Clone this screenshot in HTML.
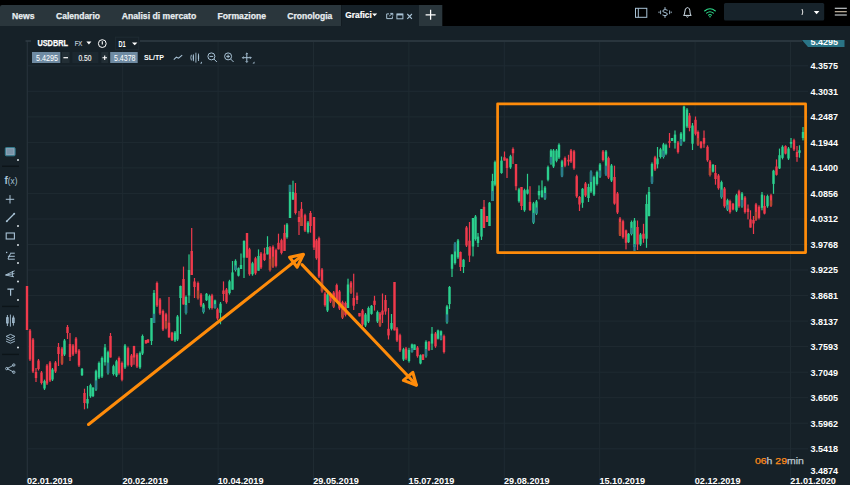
<!DOCTYPE html>
<html><head><meta charset="utf-8"><title>Chart</title><style>html,body{margin:0;padding:0;background:#162128;overflow:hidden}svg{display:block}</style></head><body>
<svg width="850" height="485" viewBox="0 0 850 485" font-family="'Liberation Sans', sans-serif">
<rect width="850" height="485" fill="#162128"/>
<rect x="0" y="0" width="850" height="26" fill="#000"/>
<path d="M0 7 Q0 5 2 5 H341.3 V26 H0 Z" fill="#2a363c"/>
<rect x="341.3" y="5" width="77.7" height="21" fill="#162128"/>
<rect x="419" y="5" width="23.3" height="21" fill="#2a363c"/>
<text x="12" y="18.9" font-size="9" font-weight="bold" fill="#e9eef1" text-anchor="start" textLength="22.4" lengthAdjust="spacingAndGlyphs" stroke="#e9eef1" stroke-width="0.25">News</text>
<text x="56" y="18.9" font-size="9" font-weight="bold" fill="#e9eef1" text-anchor="start" textLength="44" lengthAdjust="spacingAndGlyphs" stroke="#e9eef1" stroke-width="0.25">Calendario</text>
<text x="121.7" y="18.9" font-size="9" font-weight="bold" fill="#e9eef1" text-anchor="start" textLength="74.6" lengthAdjust="spacingAndGlyphs" stroke="#e9eef1" stroke-width="0.25">Analisi di mercato</text>
<text x="217.5" y="18.9" font-size="9" font-weight="bold" fill="#e9eef1" text-anchor="start" textLength="48.5" lengthAdjust="spacingAndGlyphs" stroke="#e9eef1" stroke-width="0.25">Formazione</text>
<text x="287.3" y="18.9" font-size="9" font-weight="bold" fill="#e9eef1" text-anchor="start" textLength="45" lengthAdjust="spacingAndGlyphs" stroke="#e9eef1" stroke-width="0.25">Cronologia</text>
<text x="345.3" y="18.4" font-size="9" font-weight="bold" fill="#fff" text-anchor="start" textLength="26.4" lengthAdjust="spacingAndGlyphs" stroke="#fff" stroke-width="0.2">Grafici</text>
<path d="M372 13.4 h5.2 l-2.6 2.9 z" fill="#fff"/>
<g fill="none" stroke="#a9c3d6" stroke-width="1"><path d="M389 13.9 H386.7 V18.6 H392.4 V16.4"/><path d="M389.3 16 L392.6 13.4 M390.3 13.4 H392.8 V15.6"/></g>
<g fill="none" stroke="#a9c3d6" stroke-width="1"><rect x="396.9" y="14" width="6" height="4.8"/><path d="M396.9 14.6 h6" stroke-width="1.6"/></g>
<path d="M407.3 14 l4.6 4.8 M411.9 14 l-4.6 4.8" stroke="#a9c3d6" stroke-width="1.1" fill="none"/>
<path d="M425.6 14.8 h10 M430.6 9.8 v10" stroke="#fff" stroke-width="1.25" fill="none"/>
<g fill="none" stroke="#a9c3d6" stroke-width="1"><rect x="635.5" y="8.3" width="11.3" height="9"/><path d="M638.3 8.3 v9"/></g>
<g fill="none" stroke="#a9c3d6" stroke-width="1"><path d="M667.6 10.3 q-2.6 -1.6 -4.6 0 q-1.2 1.6 2 2.2 q3.2 0.6 2.2 2.4 q-2 1.6 -4.8 0"/><path d="M665 7.2 v2 M665 15.6 v2.2"/><path d="M660.6 10.4 v3.8 M669.6 10.4 v3.8 M659 11.5 v1.6 M671.2 11.5 v1.6" stroke-width="0.9"/></g>
<g fill="none" stroke="#d4e2ec" stroke-width="1"><path d="M683.6 15.4 q1.2 -1 1.2 -3.4 q0 -4.2 2.6 -4.4 q2.6 0.2 2.6 4.4 q0 2.4 1.2 3.4 z"/><path d="M686.4 16.6 q1 1.2 2 0"/></g>
<g fill="none" stroke="#2edc8c" stroke-width="1.05" stroke-linecap="round"><path d="M704.6 11 q5.4 -4.6 10.8 0"/><path d="M706.6 13.2 q3.4 -3 6.8 0"/><path d="M708.5 15.2 q1.5 -1.4 3 0"/></g><circle cx="710" cy="16.8" r="0.8" fill="#2ee08a"/>
<rect x="724" y="2.9" width="100.2" height="17.7" rx="1.5" fill="#17232b"/>
<path d="M802 9 q1.6 3 0 6" stroke="#e8e8e8" stroke-width="1" fill="none"/>
<path d="M813.8 11 h5.6 l-2.8 3.2 z" fill="#fff"/>
<path d="M834.8 8.3 h12 M834.8 15 h12" stroke="#e8edf0" stroke-width="1.1"/><path d="M834.8 11.7 h12" stroke="#d8c8b0" stroke-width="1.1"/>
<path d="M27.3 65.8 H808 M27.3 91.3 H808 M27.3 116.9 H808 M27.3 142.4 H808 M27.3 167.9 H808 M27.3 193.4 H808 M27.3 219.0 H808 M27.3 244.5 H808 M27.3 270.0 H808 M27.3 295.6 H808 M27.3 321.1 H808 M27.3 346.6 H808 M27.3 372.2 H808 M27.3 397.7 H808 M27.3 423.2 H808 M27.3 448.8 H808 M122.7 42 V485 M218.1 42 V485 M313.5 42 V485 M408.9 42 V485 M504.3 42 V485 M599.7 42 V485 M695.1 42 V485 M790.5 42 V485" stroke="#1f2b32" stroke-width="1" fill="none"/>
<path d="M27.3 41 V485" stroke="#26323a" stroke-width="1.2" fill="none"/>
<path d="M25.5 41 H802" stroke="#303c44" stroke-width="1.5" fill="none"/>
<rect x="26.40" y="286.0" width="1.2" height="44.0" fill="#f03a4c"/>
<rect x="25.80" y="286.0" width="2.4" height="44.0" fill="#f03a4c"/>
<rect x="29.40" y="329.0" width="1.2" height="32.0" fill="#f03a4c"/>
<rect x="28.80" y="330.5" width="2.4" height="29.0" fill="#f03a4c"/>
<rect x="32.40" y="338.0" width="1.2" height="35.0" fill="#f03a4c"/>
<rect x="31.80" y="339.5" width="2.4" height="32.0" fill="#f03a4c"/>
<rect x="35.40" y="368.0" width="1.2" height="14.0" fill="#f03a4c"/>
<rect x="34.80" y="372.0" width="2.4" height="6.0" fill="#f03a4c"/>
<rect x="37.90" y="359.0" width="1.2" height="11.5" fill="#f03a4c"/>
<rect x="37.30" y="360.5" width="2.4" height="8.5" fill="#f03a4c"/>
<rect x="40.90" y="371.0" width="1.2" height="13.5" fill="#f03a4c"/>
<rect x="40.30" y="372.5" width="2.4" height="10.5" fill="#f03a4c"/>
<rect x="43.90" y="379.6" width="1.2" height="10.4" fill="#2bcf8e"/>
<rect x="43.30" y="381.1" width="2.4" height="7.4" fill="#2bcf8e"/>
<rect x="46.40" y="364.0" width="1.2" height="21.0" fill="#f03a4c"/>
<rect x="45.80" y="365.5" width="2.4" height="18.0" fill="#f03a4c"/>
<rect x="49.40" y="361.0" width="1.2" height="21.0" fill="#f03a4c"/>
<rect x="48.80" y="362.5" width="2.4" height="18.0" fill="#f03a4c"/>
<rect x="51.90" y="368.0" width="1.2" height="13.0" fill="#2bcf8e"/>
<rect x="51.30" y="369.5" width="2.4" height="10.0" fill="#2bcf8e"/>
<rect x="54.90" y="361.0" width="1.2" height="12.0" fill="#f03a4c"/>
<rect x="54.30" y="362.5" width="2.4" height="9.0" fill="#f03a4c"/>
<rect x="57.90" y="343.0" width="1.2" height="23.0" fill="#f03a4c"/>
<rect x="57.30" y="347.0" width="2.4" height="7.0" fill="#f03a4c"/>
<rect x="61.40" y="347.0" width="1.2" height="18.0" fill="#f03a4c"/>
<rect x="60.80" y="348.5" width="2.4" height="15.0" fill="#f03a4c"/>
<rect x="60.90" y="356.0" width="2.2" height="7.5" fill="#b34a2e"/>
<rect x="63.90" y="339.0" width="1.2" height="17.0" fill="#2bcf8e"/>
<rect x="63.30" y="340.5" width="2.4" height="14.0" fill="#2bcf8e"/>
<rect x="66.90" y="325.0" width="1.2" height="14.0" fill="#f03a4c"/>
<rect x="66.30" y="327.0" width="2.4" height="6.0" fill="#f03a4c"/>
<rect x="69.40" y="333.0" width="1.2" height="28.0" fill="#f03a4c"/>
<rect x="68.80" y="344.0" width="2.4" height="13.0" fill="#f03a4c"/>
<rect x="72.40" y="344.0" width="1.2" height="12.0" fill="#f03a4c"/>
<rect x="71.80" y="345.5" width="2.4" height="9.0" fill="#f03a4c"/>
<rect x="75.40" y="337.0" width="1.2" height="17.0" fill="#f03a4c"/>
<rect x="74.80" y="338.5" width="2.4" height="14.0" fill="#f03a4c"/>
<rect x="78.40" y="349.0" width="1.2" height="18.0" fill="#f03a4c"/>
<rect x="77.80" y="350.5" width="2.4" height="15.0" fill="#f03a4c"/>
<rect x="81.40" y="368.0" width="1.2" height="8.0" fill="#2bcf8e"/>
<rect x="80.80" y="368.8" width="2.4" height="6.4" fill="#2bcf8e"/>
<rect x="83.90" y="388.7" width="1.2" height="20.6" fill="#f03a4c"/>
<rect x="83.30" y="393.0" width="2.4" height="10.0" fill="#f03a4c"/>
<rect x="86.90" y="386.0" width="1.2" height="22.5" fill="#2bcf8e"/>
<rect x="86.30" y="399.0" width="2.4" height="4.5" fill="#2bcf8e"/>
<rect x="89.90" y="383.7" width="1.2" height="14.1" fill="#2bcf8e"/>
<rect x="89.30" y="385.2" width="2.4" height="11.1" fill="#2bcf8e"/>
<rect x="92.40" y="387.0" width="1.2" height="10.0" fill="#2bcf8e"/>
<rect x="91.80" y="387.8" width="2.4" height="8.4" fill="#2bcf8e"/>
<rect x="95.40" y="369.7" width="1.2" height="21.3" fill="#2bcf8e"/>
<rect x="94.80" y="371.2" width="2.4" height="18.3" fill="#2bcf8e"/>
<rect x="94.90" y="380.4" width="2.2" height="9.1" fill="#2a7a8c"/>
<rect x="98.40" y="361.5" width="1.2" height="17.5" fill="#2bcf8e"/>
<rect x="97.80" y="363.0" width="2.4" height="14.5" fill="#2bcf8e"/>
<rect x="101.40" y="356.5" width="1.2" height="21.5" fill="#2bcf8e"/>
<rect x="100.80" y="358.0" width="2.4" height="18.5" fill="#2bcf8e"/>
<rect x="104.40" y="344.0" width="1.2" height="21.6" fill="#2bcf8e"/>
<rect x="103.80" y="347.4" width="2.4" height="14.9" fill="#2bcf8e"/>
<rect x="107.40" y="350.7" width="1.2" height="23.9" fill="#2bcf8e"/>
<rect x="106.80" y="352.2" width="2.4" height="20.9" fill="#2bcf8e"/>
<rect x="106.90" y="362.6" width="2.2" height="10.5" fill="#2a7a8c"/>
<rect x="109.90" y="333.0" width="1.2" height="24.5" fill="#f03a4c"/>
<rect x="109.30" y="336.0" width="2.4" height="21.5" fill="#f03a4c"/>
<rect x="112.90" y="364.7" width="1.2" height="10.8" fill="#2bcf8e"/>
<rect x="112.30" y="366.2" width="2.4" height="7.8" fill="#2bcf8e"/>
<rect x="115.90" y="359.8" width="1.2" height="17.2" fill="#2bcf8e"/>
<rect x="115.30" y="361.3" width="2.4" height="14.2" fill="#2bcf8e"/>
<rect x="118.40" y="356.5" width="1.2" height="18.1" fill="#f03a4c"/>
<rect x="117.80" y="358.0" width="2.4" height="15.1" fill="#f03a4c"/>
<rect x="121.40" y="361.5" width="1.2" height="19.8" fill="#f03a4c"/>
<rect x="120.80" y="363.0" width="2.4" height="16.8" fill="#f03a4c"/>
<rect x="124.40" y="344.0" width="1.2" height="25.0" fill="#2bcf8e"/>
<rect x="123.80" y="345.5" width="2.4" height="22.0" fill="#2bcf8e"/>
<rect x="127.40" y="346.6" width="1.2" height="19.8" fill="#f03a4c"/>
<rect x="126.80" y="348.1" width="2.4" height="16.8" fill="#f03a4c"/>
<rect x="130.90" y="354.0" width="1.2" height="13.0" fill="#f03a4c"/>
<rect x="130.30" y="355.5" width="2.4" height="10.0" fill="#f03a4c"/>
<rect x="133.40" y="345.8" width="1.2" height="18.9" fill="#f03a4c"/>
<rect x="132.80" y="346.0" width="2.4" height="11.5" fill="#f03a4c"/>
<rect x="136.40" y="353.0" width="1.2" height="15.0" fill="#f03a4c"/>
<rect x="135.80" y="354.5" width="2.4" height="12.0" fill="#f03a4c"/>
<rect x="139.40" y="351.5" width="1.2" height="17.4" fill="#2bcf8e"/>
<rect x="138.80" y="353.0" width="2.4" height="14.4" fill="#2bcf8e"/>
<rect x="141.90" y="334.5" width="1.2" height="20.5" fill="#2bcf8e"/>
<rect x="141.30" y="336.0" width="2.4" height="17.5" fill="#2bcf8e"/>
<rect x="145.40" y="340.0" width="1.2" height="3.5" fill="#f03a4c"/>
<rect x="144.80" y="340.0" width="2.4" height="3.5" fill="#f03a4c"/>
<rect x="147.40" y="339.4" width="1.2" height="3.3" fill="#f03a4c"/>
<rect x="146.80" y="339.4" width="2.4" height="3.3" fill="#f03a4c"/>
<rect x="150.90" y="318.0" width="1.2" height="27.0" fill="#2bcf8e"/>
<rect x="150.30" y="318.0" width="2.4" height="23.0" fill="#2bcf8e"/>
<rect x="153.40" y="290.0" width="1.2" height="33.0" fill="#2bcf8e"/>
<rect x="152.80" y="293.0" width="2.4" height="30.0" fill="#2bcf8e"/>
<rect x="152.90" y="313.8" width="2.2" height="9.2" fill="#2a7a8c"/>
<rect x="156.40" y="281.5" width="1.2" height="25.5" fill="#f03a4c"/>
<rect x="155.80" y="283.0" width="2.4" height="22.5" fill="#f03a4c"/>
<rect x="159.40" y="298.0" width="1.2" height="17.0" fill="#f03a4c"/>
<rect x="158.80" y="299.5" width="2.4" height="14.0" fill="#f03a4c"/>
<rect x="162.40" y="309.5" width="1.2" height="21.5" fill="#f03a4c"/>
<rect x="161.80" y="311.0" width="2.4" height="18.5" fill="#f03a4c"/>
<rect x="165.40" y="312.8" width="1.2" height="16.5" fill="#f03a4c"/>
<rect x="164.80" y="314.3" width="2.4" height="13.5" fill="#f03a4c"/>
<rect x="164.90" y="321.1" width="2.2" height="6.8" fill="#b34a2e"/>
<rect x="168.40" y="297.0" width="1.2" height="40.5" fill="#f03a4c"/>
<rect x="167.80" y="322.7" width="2.4" height="14.8" fill="#f03a4c"/>
<rect x="171.40" y="331.8" width="1.2" height="9.2" fill="#f03a4c"/>
<rect x="170.80" y="332.6" width="2.4" height="7.6" fill="#f03a4c"/>
<rect x="174.40" y="331.0" width="1.2" height="11.0" fill="#2bcf8e"/>
<rect x="173.80" y="332.5" width="2.4" height="8.0" fill="#2bcf8e"/>
<rect x="176.90" y="315.0" width="1.2" height="26.0" fill="#2bcf8e"/>
<rect x="176.30" y="316.5" width="2.4" height="23.0" fill="#2bcf8e"/>
<rect x="179.90" y="285.6" width="1.2" height="48.4" fill="#2bcf8e"/>
<rect x="179.30" y="286.0" width="2.4" height="12.0" fill="#2bcf8e"/>
<rect x="182.90" y="266.6" width="1.2" height="37.9" fill="#f03a4c"/>
<rect x="182.30" y="279.0" width="2.4" height="25.5" fill="#f03a4c"/>
<rect x="185.40" y="295.5" width="1.2" height="19.0" fill="#2bcf8e"/>
<rect x="184.80" y="297.0" width="2.4" height="16.0" fill="#2bcf8e"/>
<rect x="184.90" y="305.0" width="2.2" height="8.0" fill="#2a7a8c"/>
<rect x="188.40" y="254.4" width="1.2" height="48.6" fill="#2bcf8e"/>
<rect x="187.80" y="270.0" width="2.4" height="25.5" fill="#2bcf8e"/>
<rect x="191.10" y="228.0" width="1.2" height="47.0" fill="#f03a4c"/>
<rect x="190.50" y="251.0" width="2.4" height="24.0" fill="#f03a4c"/>
<rect x="193.90" y="278.0" width="1.2" height="20.0" fill="#f03a4c"/>
<rect x="193.30" y="281.5" width="2.4" height="5.5" fill="#f03a4c"/>
<rect x="197.40" y="281.5" width="1.2" height="18.1" fill="#f03a4c"/>
<rect x="196.80" y="283.0" width="2.4" height="15.1" fill="#f03a4c"/>
<rect x="196.90" y="290.6" width="2.2" height="7.6" fill="#b34a2e"/>
<rect x="200.40" y="293.0" width="1.2" height="14.0" fill="#f03a4c"/>
<rect x="199.80" y="294.5" width="2.4" height="11.0" fill="#f03a4c"/>
<rect x="202.90" y="303.0" width="1.2" height="10.6" fill="#2bcf8e"/>
<rect x="202.30" y="304.5" width="2.4" height="7.6" fill="#2bcf8e"/>
<rect x="202.40" y="308.3" width="2.2" height="3.8" fill="#2a7a8c"/>
<rect x="205.90" y="293.0" width="1.2" height="8.0" fill="#2bcf8e"/>
<rect x="205.30" y="293.8" width="2.4" height="6.4" fill="#2bcf8e"/>
<rect x="208.90" y="294.6" width="1.2" height="14.9" fill="#2bcf8e"/>
<rect x="208.30" y="296.1" width="2.4" height="11.9" fill="#2bcf8e"/>
<rect x="211.40" y="293.8" width="1.2" height="15.7" fill="#f03a4c"/>
<rect x="210.80" y="295.3" width="2.4" height="12.7" fill="#f03a4c"/>
<rect x="214.40" y="299.6" width="1.2" height="9.1" fill="#2bcf8e"/>
<rect x="213.80" y="300.4" width="2.4" height="7.5" fill="#2bcf8e"/>
<rect x="213.90" y="304.1" width="2.2" height="3.8" fill="#2a7a8c"/>
<rect x="216.90" y="307.8" width="1.2" height="12.2" fill="#f03a4c"/>
<rect x="216.30" y="309.3" width="2.4" height="9.2" fill="#f03a4c"/>
<rect x="219.90" y="302.0" width="1.2" height="22.3" fill="#2bcf8e"/>
<rect x="219.30" y="303.7" width="2.4" height="9.1" fill="#2bcf8e"/>
<rect x="222.90" y="281.4" width="1.2" height="19.6" fill="#f03a4c"/>
<rect x="222.30" y="290.5" width="2.4" height="3.5" fill="#f03a4c"/>
<rect x="225.90" y="288.0" width="1.2" height="15.7" fill="#f03a4c"/>
<rect x="225.30" y="289.5" width="2.4" height="12.7" fill="#f03a4c"/>
<rect x="228.90" y="279.8" width="1.2" height="14.8" fill="#2bcf8e"/>
<rect x="228.30" y="281.3" width="2.4" height="11.8" fill="#2bcf8e"/>
<rect x="231.90" y="261.0" width="1.2" height="28.7" fill="#2bcf8e"/>
<rect x="231.30" y="272.4" width="2.4" height="17.3" fill="#2bcf8e"/>
<rect x="234.90" y="259.3" width="1.2" height="12.2" fill="#2bcf8e"/>
<rect x="234.30" y="260.8" width="2.4" height="9.2" fill="#2bcf8e"/>
<rect x="234.40" y="265.4" width="2.2" height="4.6" fill="#2a7a8c"/>
<rect x="237.90" y="267.4" width="1.2" height="9.1" fill="#2bcf8e"/>
<rect x="237.30" y="268.2" width="2.4" height="7.5" fill="#2bcf8e"/>
<rect x="240.40" y="253.5" width="1.2" height="15.5" fill="#2bcf8e"/>
<rect x="239.80" y="265.0" width="2.4" height="4.0" fill="#2bcf8e"/>
<rect x="243.40" y="240.3" width="1.2" height="37.7" fill="#2bcf8e"/>
<rect x="242.80" y="241.0" width="2.4" height="16.7" fill="#2bcf8e"/>
<rect x="246.40" y="233.0" width="1.2" height="24.7" fill="#f03a4c"/>
<rect x="245.80" y="233.0" width="2.4" height="24.7" fill="#f03a4c"/>
<rect x="248.90" y="247.8" width="1.2" height="27.9" fill="#f03a4c"/>
<rect x="248.30" y="249.3" width="2.4" height="24.9" fill="#f03a4c"/>
<rect x="251.90" y="261.8" width="1.2" height="13.9" fill="#2bcf8e"/>
<rect x="251.30" y="263.3" width="2.4" height="10.9" fill="#2bcf8e"/>
<rect x="254.90" y="256.8" width="1.2" height="18.0" fill="#f03a4c"/>
<rect x="254.30" y="258.3" width="2.4" height="15.0" fill="#f03a4c"/>
<rect x="257.90" y="249.4" width="1.2" height="21.3" fill="#2bcf8e"/>
<rect x="257.30" y="256.0" width="2.4" height="14.7" fill="#2bcf8e"/>
<rect x="260.40" y="252.0" width="1.2" height="17.0" fill="#f03a4c"/>
<rect x="259.80" y="253.5" width="2.4" height="14.0" fill="#f03a4c"/>
<rect x="263.90" y="247.8" width="1.2" height="13.2" fill="#f03a4c"/>
<rect x="263.30" y="253.5" width="2.4" height="6.5" fill="#f03a4c"/>
<rect x="266.90" y="236.2" width="1.2" height="18.2" fill="#2bcf8e"/>
<rect x="266.30" y="247.0" width="2.4" height="7.4" fill="#2bcf8e"/>
<rect x="269.40" y="246.0" width="1.2" height="25.5" fill="#f03a4c"/>
<rect x="268.80" y="247.5" width="2.4" height="22.5" fill="#f03a4c"/>
<rect x="268.90" y="258.8" width="2.2" height="11.2" fill="#b34a2e"/>
<rect x="272.40" y="245.3" width="1.2" height="22.7" fill="#f03a4c"/>
<rect x="271.80" y="246.8" width="2.4" height="19.7" fill="#f03a4c"/>
<rect x="271.90" y="256.6" width="2.2" height="9.9" fill="#b34a2e"/>
<rect x="275.40" y="248.6" width="1.2" height="18.8" fill="#f03a4c"/>
<rect x="274.80" y="250.1" width="2.4" height="15.8" fill="#f03a4c"/>
<rect x="277.90" y="233.7" width="1.2" height="15.7" fill="#f03a4c"/>
<rect x="277.30" y="242.8" width="2.4" height="6.6" fill="#f03a4c"/>
<rect x="280.90" y="238.7" width="1.2" height="15.7" fill="#f03a4c"/>
<rect x="280.30" y="240.2" width="2.4" height="12.7" fill="#f03a4c"/>
<rect x="283.90" y="224.7" width="1.2" height="26.3" fill="#f03a4c"/>
<rect x="283.30" y="233.0" width="2.4" height="18.0" fill="#f03a4c"/>
<rect x="286.40" y="223.0" width="1.2" height="15.7" fill="#2bcf8e"/>
<rect x="285.80" y="224.5" width="2.4" height="12.7" fill="#2bcf8e"/>
<rect x="289.40" y="184.9" width="1.2" height="33.1" fill="#2bcf8e"/>
<rect x="288.80" y="184.9" width="2.4" height="33.1" fill="#2bcf8e"/>
<rect x="288.90" y="184.9" width="2.2" height="7.1" fill="#2a7a8c"/>
<rect x="292.40" y="180.7" width="1.2" height="19.0" fill="#2bcf8e"/>
<rect x="291.80" y="192.0" width="2.4" height="7.7" fill="#2bcf8e"/>
<rect x="294.90" y="183.0" width="1.2" height="31.5" fill="#f03a4c"/>
<rect x="294.30" y="193.0" width="2.4" height="20.0" fill="#f03a4c"/>
<rect x="298.40" y="211.0" width="1.2" height="24.0" fill="#f03a4c"/>
<rect x="297.80" y="217.0" width="2.4" height="5.0" fill="#f03a4c"/>
<rect x="300.90" y="202.0" width="1.2" height="24.0" fill="#f03a4c"/>
<rect x="300.30" y="208.8" width="2.4" height="17.2" fill="#f03a4c"/>
<rect x="300.40" y="217.4" width="2.2" height="8.6" fill="#b34a2e"/>
<rect x="304.40" y="213.7" width="1.2" height="18.3" fill="#f03a4c"/>
<rect x="303.80" y="215.2" width="2.4" height="15.3" fill="#f03a4c"/>
<rect x="307.40" y="221.0" width="1.2" height="12.5" fill="#2bcf8e"/>
<rect x="306.80" y="222.5" width="2.4" height="9.5" fill="#2bcf8e"/>
<rect x="309.90" y="211.0" width="1.2" height="21.7" fill="#f03a4c"/>
<rect x="309.30" y="213.0" width="2.4" height="13.0" fill="#f03a4c"/>
<rect x="313.40" y="217.0" width="1.2" height="33.0" fill="#f03a4c"/>
<rect x="312.80" y="217.0" width="2.4" height="30.5" fill="#f03a4c"/>
<rect x="315.90" y="239.0" width="1.2" height="20.7" fill="#f03a4c"/>
<rect x="315.30" y="240.5" width="2.4" height="17.7" fill="#f03a4c"/>
<rect x="318.40" y="236.6" width="1.2" height="41.4" fill="#f03a4c"/>
<rect x="317.80" y="238.1" width="2.4" height="38.4" fill="#f03a4c"/>
<rect x="321.40" y="268.0" width="1.2" height="24.7" fill="#f03a4c"/>
<rect x="320.80" y="269.5" width="2.4" height="21.7" fill="#f03a4c"/>
<rect x="320.90" y="280.4" width="2.2" height="10.8" fill="#b34a2e"/>
<rect x="324.40" y="292.0" width="1.2" height="14.7" fill="#f03a4c"/>
<rect x="323.80" y="293.5" width="2.4" height="11.7" fill="#f03a4c"/>
<rect x="326.90" y="293.0" width="1.2" height="19.0" fill="#2bcf8e"/>
<rect x="326.30" y="294.5" width="2.4" height="16.0" fill="#2bcf8e"/>
<rect x="329.90" y="292.7" width="1.2" height="10.3" fill="#f03a4c"/>
<rect x="329.30" y="294.2" width="2.4" height="7.3" fill="#f03a4c"/>
<rect x="333.10" y="291.0" width="1.2" height="17.0" fill="#f03a4c"/>
<rect x="332.50" y="292.5" width="2.4" height="14.0" fill="#f03a4c"/>
<rect x="332.60" y="299.5" width="2.2" height="7.0" fill="#b34a2e"/>
<rect x="336.10" y="283.6" width="1.2" height="18.4" fill="#f03a4c"/>
<rect x="335.50" y="285.1" width="2.4" height="15.4" fill="#f03a4c"/>
<rect x="338.90" y="290.0" width="1.2" height="20.0" fill="#f03a4c"/>
<rect x="338.30" y="291.5" width="2.4" height="17.0" fill="#f03a4c"/>
<rect x="341.90" y="300.7" width="1.2" height="18.3" fill="#f03a4c"/>
<rect x="341.30" y="302.2" width="2.4" height="15.3" fill="#f03a4c"/>
<rect x="341.40" y="309.9" width="2.2" height="7.6" fill="#b34a2e"/>
<rect x="344.90" y="301.5" width="1.2" height="14.9" fill="#f03a4c"/>
<rect x="344.30" y="303.0" width="2.4" height="11.9" fill="#f03a4c"/>
<rect x="347.40" y="278.7" width="1.2" height="29.3" fill="#2bcf8e"/>
<rect x="346.80" y="284.5" width="2.4" height="23.5" fill="#2bcf8e"/>
<rect x="350.40" y="281.0" width="1.2" height="13.0" fill="#f03a4c"/>
<rect x="349.80" y="282.5" width="2.4" height="10.0" fill="#f03a4c"/>
<rect x="349.90" y="287.5" width="2.2" height="5.0" fill="#b34a2e"/>
<rect x="353.10" y="273.7" width="1.2" height="36.3" fill="#f03a4c"/>
<rect x="352.50" y="298.0" width="2.4" height="7.7" fill="#f03a4c"/>
<rect x="356.40" y="292.5" width="1.2" height="11.5" fill="#f03a4c"/>
<rect x="355.80" y="295.8" width="2.4" height="4.2" fill="#f03a4c"/>
<rect x="358.90" y="313.0" width="1.2" height="3.4" fill="#f03a4c"/>
<rect x="358.30" y="313.0" width="2.4" height="3.4" fill="#f03a4c"/>
<rect x="361.90" y="309.0" width="1.2" height="17.0" fill="#f03a4c"/>
<rect x="361.30" y="310.5" width="2.4" height="14.0" fill="#f03a4c"/>
<rect x="364.90" y="313.0" width="1.2" height="14.0" fill="#2bcf8e"/>
<rect x="364.30" y="314.5" width="2.4" height="11.0" fill="#2bcf8e"/>
<rect x="367.90" y="306.5" width="1.2" height="16.5" fill="#2bcf8e"/>
<rect x="367.30" y="308.0" width="2.4" height="13.5" fill="#2bcf8e"/>
<rect x="370.90" y="305.0" width="1.2" height="9.7" fill="#2bcf8e"/>
<rect x="370.30" y="305.8" width="2.4" height="8.1" fill="#2bcf8e"/>
<rect x="373.90" y="295.8" width="1.2" height="14.8" fill="#f03a4c"/>
<rect x="373.30" y="300.7" width="2.4" height="4.2" fill="#f03a4c"/>
<rect x="376.90" y="310.6" width="1.2" height="12.4" fill="#2bcf8e"/>
<rect x="376.30" y="312.1" width="2.4" height="9.4" fill="#2bcf8e"/>
<rect x="379.40" y="312.0" width="1.2" height="15.0" fill="#f03a4c"/>
<rect x="378.80" y="313.5" width="2.4" height="12.0" fill="#f03a4c"/>
<rect x="378.90" y="319.5" width="2.2" height="6.0" fill="#b34a2e"/>
<rect x="381.90" y="293.5" width="1.2" height="29.5" fill="#f03a4c"/>
<rect x="381.30" y="310.6" width="2.4" height="4.1" fill="#f03a4c"/>
<rect x="384.90" y="295.0" width="1.2" height="19.7" fill="#f03a4c"/>
<rect x="384.30" y="300.0" width="2.4" height="11.5" fill="#f03a4c"/>
<rect x="387.90" y="308.0" width="1.2" height="31.5" fill="#f03a4c"/>
<rect x="387.30" y="328.8" width="2.4" height="6.6" fill="#f03a4c"/>
<rect x="390.90" y="314.0" width="1.2" height="16.4" fill="#2bcf8e"/>
<rect x="390.30" y="323.0" width="2.4" height="5.8" fill="#2bcf8e"/>
<rect x="393.90" y="282.0" width="1.2" height="48.4" fill="#f03a4c"/>
<rect x="393.30" y="282.0" width="2.4" height="48.4" fill="#f03a4c"/>
<rect x="396.40" y="327.0" width="1.2" height="15.0" fill="#f03a4c"/>
<rect x="395.80" y="328.5" width="2.4" height="12.0" fill="#f03a4c"/>
<rect x="399.40" y="333.7" width="1.2" height="18.3" fill="#f03a4c"/>
<rect x="398.80" y="335.2" width="2.4" height="15.3" fill="#f03a4c"/>
<rect x="402.90" y="347.8" width="1.2" height="13.2" fill="#2bcf8e"/>
<rect x="402.30" y="349.3" width="2.4" height="10.2" fill="#2bcf8e"/>
<rect x="405.40" y="347.0" width="1.2" height="13.0" fill="#f03a4c"/>
<rect x="404.80" y="348.5" width="2.4" height="10.0" fill="#f03a4c"/>
<rect x="408.40" y="347.8" width="1.2" height="14.8" fill="#2bcf8e"/>
<rect x="407.80" y="350.0" width="2.4" height="11.0" fill="#2bcf8e"/>
<rect x="411.40" y="343.6" width="1.2" height="9.1" fill="#2bcf8e"/>
<rect x="410.80" y="344.4" width="2.4" height="7.5" fill="#2bcf8e"/>
<rect x="410.90" y="348.1" width="2.2" height="3.8" fill="#2a7a8c"/>
<rect x="413.90" y="344.5" width="1.2" height="5.5" fill="#2bcf8e"/>
<rect x="413.30" y="344.5" width="2.4" height="5.5" fill="#2bcf8e"/>
<rect x="416.90" y="346.0" width="1.2" height="11.7" fill="#f03a4c"/>
<rect x="416.30" y="347.5" width="2.4" height="8.7" fill="#f03a4c"/>
<rect x="419.90" y="354.4" width="1.2" height="9.9" fill="#2bcf8e"/>
<rect x="419.30" y="355.2" width="2.4" height="8.3" fill="#2bcf8e"/>
<rect x="422.40" y="354.4" width="1.2" height="5.6" fill="#f03a4c"/>
<rect x="421.80" y="354.4" width="2.4" height="5.6" fill="#f03a4c"/>
<rect x="425.40" y="340.3" width="1.2" height="17.4" fill="#2bcf8e"/>
<rect x="424.80" y="341.8" width="2.4" height="14.4" fill="#2bcf8e"/>
<rect x="424.90" y="349.0" width="2.2" height="7.2" fill="#2a7a8c"/>
<rect x="428.40" y="341.0" width="1.2" height="10.0" fill="#f03a4c"/>
<rect x="427.80" y="341.8" width="2.4" height="8.4" fill="#f03a4c"/>
<rect x="431.40" y="327.0" width="1.2" height="23.0" fill="#2bcf8e"/>
<rect x="430.80" y="333.7" width="2.4" height="9.9" fill="#2bcf8e"/>
<rect x="434.90" y="332.0" width="1.2" height="15.8" fill="#f03a4c"/>
<rect x="434.30" y="333.5" width="2.4" height="12.8" fill="#f03a4c"/>
<rect x="437.40" y="329.6" width="1.2" height="9.9" fill="#2bcf8e"/>
<rect x="436.80" y="330.4" width="2.4" height="8.3" fill="#2bcf8e"/>
<rect x="440.40" y="330.4" width="1.2" height="9.9" fill="#2bcf8e"/>
<rect x="439.80" y="331.2" width="2.4" height="8.3" fill="#2bcf8e"/>
<rect x="439.90" y="335.4" width="2.2" height="4.1" fill="#2a7a8c"/>
<rect x="443.40" y="334.6" width="1.2" height="18.9" fill="#f03a4c"/>
<rect x="442.80" y="336.1" width="2.4" height="15.9" fill="#f03a4c"/>
<rect x="446.40" y="304.9" width="1.2" height="18.9" fill="#2bcf8e"/>
<rect x="445.80" y="306.4" width="2.4" height="15.9" fill="#2bcf8e"/>
<rect x="445.90" y="314.4" width="2.2" height="7.9" fill="#2a7a8c"/>
<rect x="448.90" y="286.0" width="1.2" height="23.0" fill="#2bcf8e"/>
<rect x="448.30" y="287.0" width="2.4" height="17.0" fill="#2bcf8e"/>
<rect x="451.40" y="254.0" width="1.2" height="23.0" fill="#2bcf8e"/>
<rect x="450.80" y="254.7" width="2.4" height="14.1" fill="#2bcf8e"/>
<rect x="454.40" y="242.4" width="1.2" height="22.2" fill="#2bcf8e"/>
<rect x="453.80" y="243.9" width="2.4" height="19.2" fill="#2bcf8e"/>
<rect x="453.90" y="242.4" width="2.2" height="9.1" fill="#2a7a8c"/>
<rect x="457.40" y="239.0" width="1.2" height="19.9" fill="#2bcf8e"/>
<rect x="456.80" y="240.5" width="2.4" height="16.9" fill="#2bcf8e"/>
<rect x="459.90" y="251.5" width="1.2" height="19.5" fill="#f03a4c"/>
<rect x="459.30" y="252.0" width="2.4" height="15.0" fill="#f03a4c"/>
<rect x="462.90" y="258.9" width="1.2" height="14.1" fill="#2bcf8e"/>
<rect x="462.30" y="259.7" width="2.4" height="7.3" fill="#2bcf8e"/>
<rect x="465.90" y="226.0" width="1.2" height="21.0" fill="#f03a4c"/>
<rect x="465.30" y="227.5" width="2.4" height="18.0" fill="#f03a4c"/>
<rect x="468.90" y="222.0" width="1.2" height="40.0" fill="#f03a4c"/>
<rect x="468.30" y="240.7" width="2.4" height="14.9" fill="#f03a4c"/>
<rect x="472.40" y="218.0" width="1.2" height="38.4" fill="#2bcf8e"/>
<rect x="471.80" y="218.0" width="2.4" height="28.5" fill="#2bcf8e"/>
<rect x="474.90" y="215.0" width="1.2" height="25.7" fill="#2bcf8e"/>
<rect x="474.30" y="216.5" width="2.4" height="22.7" fill="#2bcf8e"/>
<rect x="477.40" y="233.0" width="1.2" height="14.0" fill="#2bcf8e"/>
<rect x="476.80" y="236.6" width="2.4" height="6.4" fill="#2bcf8e"/>
<rect x="480.90" y="209.0" width="1.2" height="31.0" fill="#2bcf8e"/>
<rect x="480.30" y="209.0" width="2.4" height="27.6" fill="#2bcf8e"/>
<rect x="483.40" y="200.0" width="1.2" height="28.0" fill="#f03a4c"/>
<rect x="482.80" y="206.8" width="2.4" height="21.2" fill="#f03a4c"/>
<rect x="486.40" y="216.0" width="1.2" height="6.0" fill="#f03a4c"/>
<rect x="485.80" y="216.0" width="2.4" height="6.0" fill="#f03a4c"/>
<rect x="488.90" y="202.0" width="1.2" height="24.0" fill="#2bcf8e"/>
<rect x="488.30" y="202.7" width="2.4" height="23.3" fill="#2bcf8e"/>
<rect x="491.90" y="173.8" width="1.2" height="27.2" fill="#2bcf8e"/>
<rect x="491.30" y="181.0" width="2.4" height="20.0" fill="#2bcf8e"/>
<rect x="491.40" y="191.0" width="2.2" height="10.0" fill="#2a7a8c"/>
<rect x="494.40" y="160.6" width="1.2" height="25.6" fill="#2bcf8e"/>
<rect x="493.80" y="162.1" width="2.4" height="22.6" fill="#2bcf8e"/>
<rect x="500.90" y="156.5" width="1.2" height="17.3" fill="#2bcf8e"/>
<rect x="500.30" y="160.6" width="2.4" height="12.4" fill="#2bcf8e"/>
<rect x="503.90" y="151.5" width="1.2" height="9.1" fill="#f03a4c"/>
<rect x="503.30" y="157.3" width="2.4" height="3.3" fill="#f03a4c"/>
<rect x="506.40" y="158.0" width="1.2" height="20.0" fill="#f03a4c"/>
<rect x="505.80" y="159.0" width="2.4" height="9.0" fill="#f03a4c"/>
<rect x="509.90" y="154.8" width="1.2" height="14.1" fill="#2bcf8e"/>
<rect x="509.30" y="156.3" width="2.4" height="11.1" fill="#2bcf8e"/>
<rect x="512.40" y="147.4" width="1.2" height="16.6" fill="#f03a4c"/>
<rect x="511.80" y="149.0" width="2.4" height="4.2" fill="#f03a4c"/>
<rect x="515.40" y="164.0" width="1.2" height="26.3" fill="#f03a4c"/>
<rect x="514.80" y="164.0" width="2.4" height="22.2" fill="#f03a4c"/>
<rect x="518.40" y="187.8" width="1.2" height="14.9" fill="#2bcf8e"/>
<rect x="517.80" y="189.3" width="2.4" height="11.9" fill="#2bcf8e"/>
<rect x="520.90" y="187.0" width="1.2" height="23.0" fill="#f03a4c"/>
<rect x="520.30" y="187.0" width="2.4" height="19.0" fill="#f03a4c"/>
<rect x="523.90" y="188.7" width="1.2" height="23.1" fill="#2bcf8e"/>
<rect x="523.30" y="190.2" width="2.4" height="20.1" fill="#2bcf8e"/>
<rect x="526.90" y="173.8" width="1.2" height="20.7" fill="#2bcf8e"/>
<rect x="526.30" y="189.5" width="2.4" height="4.1" fill="#2bcf8e"/>
<rect x="529.40" y="186.2" width="1.2" height="24.8" fill="#f03a4c"/>
<rect x="528.80" y="201.9" width="2.4" height="8.1" fill="#f03a4c"/>
<rect x="532.90" y="201.9" width="1.2" height="22.1" fill="#2bcf8e"/>
<rect x="532.30" y="203.4" width="2.4" height="19.1" fill="#2bcf8e"/>
<rect x="532.40" y="212.9" width="2.2" height="9.6" fill="#2a7a8c"/>
<rect x="535.90" y="200.0" width="1.2" height="15.0" fill="#2bcf8e"/>
<rect x="535.30" y="201.5" width="2.4" height="12.0" fill="#2bcf8e"/>
<rect x="535.40" y="207.5" width="2.2" height="6.0" fill="#2a7a8c"/>
<rect x="538.40" y="185.4" width="1.2" height="14.0" fill="#2bcf8e"/>
<rect x="537.80" y="191.0" width="2.4" height="4.3" fill="#2bcf8e"/>
<rect x="541.40" y="180.4" width="1.2" height="17.4" fill="#2bcf8e"/>
<rect x="540.80" y="190.3" width="2.4" height="6.7" fill="#2bcf8e"/>
<rect x="544.40" y="186.0" width="1.2" height="14.0" fill="#2bcf8e"/>
<rect x="543.80" y="187.5" width="2.4" height="11.0" fill="#2bcf8e"/>
<rect x="543.90" y="193.0" width="2.2" height="5.5" fill="#2a7a8c"/>
<rect x="547.40" y="165.6" width="1.2" height="15.7" fill="#2bcf8e"/>
<rect x="546.80" y="167.1" width="2.4" height="12.7" fill="#2bcf8e"/>
<rect x="550.40" y="149.0" width="1.2" height="15.8" fill="#2bcf8e"/>
<rect x="549.80" y="150.5" width="2.4" height="12.8" fill="#2bcf8e"/>
<rect x="549.90" y="156.9" width="2.2" height="6.4" fill="#2a7a8c"/>
<rect x="552.90" y="149.0" width="1.2" height="19.0" fill="#2bcf8e"/>
<rect x="552.30" y="150.5" width="2.4" height="16.0" fill="#2bcf8e"/>
<rect x="555.90" y="149.0" width="1.2" height="13.3" fill="#2bcf8e"/>
<rect x="555.30" y="150.5" width="2.4" height="10.3" fill="#2bcf8e"/>
<rect x="558.40" y="143.3" width="1.2" height="15.7" fill="#2bcf8e"/>
<rect x="557.80" y="144.8" width="2.4" height="12.7" fill="#2bcf8e"/>
<rect x="561.40" y="159.8" width="1.2" height="17.3" fill="#2bcf8e"/>
<rect x="560.80" y="161.3" width="2.4" height="14.3" fill="#2bcf8e"/>
<rect x="560.90" y="167.0" width="2.2" height="10.1" fill="#2a7a8c"/>
<rect x="564.40" y="156.5" width="1.2" height="10.7" fill="#f03a4c"/>
<rect x="563.80" y="158.0" width="2.4" height="7.7" fill="#f03a4c"/>
<rect x="567.90" y="154.8" width="1.2" height="10.8" fill="#f03a4c"/>
<rect x="567.30" y="159.8" width="2.4" height="1.7" fill="#f03a4c"/>
<rect x="570.40" y="149.0" width="1.2" height="14.0" fill="#f03a4c"/>
<rect x="569.80" y="150.5" width="2.4" height="11.0" fill="#f03a4c"/>
<rect x="573.40" y="149.9" width="1.2" height="19.9" fill="#f03a4c"/>
<rect x="572.80" y="151.4" width="2.4" height="16.9" fill="#f03a4c"/>
<rect x="576.10" y="174.7" width="1.2" height="23.2" fill="#f03a4c"/>
<rect x="575.50" y="176.2" width="2.4" height="20.2" fill="#f03a4c"/>
<rect x="578.90" y="196.0" width="1.2" height="15.0" fill="#f03a4c"/>
<rect x="578.30" y="197.0" width="2.4" height="7.5" fill="#f03a4c"/>
<rect x="581.90" y="188.0" width="1.2" height="19.8" fill="#2bcf8e"/>
<rect x="581.30" y="188.8" width="2.4" height="14.0" fill="#2bcf8e"/>
<rect x="584.90" y="182.0" width="1.2" height="15.0" fill="#f03a4c"/>
<rect x="584.30" y="183.5" width="2.4" height="12.0" fill="#f03a4c"/>
<rect x="587.90" y="183.8" width="1.2" height="18.2" fill="#2bcf8e"/>
<rect x="587.30" y="187.0" width="2.4" height="11.0" fill="#2bcf8e"/>
<rect x="590.40" y="170.6" width="1.2" height="22.4" fill="#2bcf8e"/>
<rect x="589.80" y="172.1" width="2.4" height="19.4" fill="#2bcf8e"/>
<rect x="589.90" y="170.6" width="2.2" height="11.4" fill="#2a7a8c"/>
<rect x="593.40" y="175.6" width="1.2" height="20.4" fill="#2bcf8e"/>
<rect x="592.80" y="177.1" width="2.4" height="17.4" fill="#2bcf8e"/>
<rect x="596.40" y="170.6" width="1.2" height="14.9" fill="#2bcf8e"/>
<rect x="595.80" y="172.1" width="2.4" height="11.9" fill="#2bcf8e"/>
<rect x="599.40" y="163.0" width="1.2" height="15.0" fill="#2bcf8e"/>
<rect x="598.80" y="164.5" width="2.4" height="12.0" fill="#2bcf8e"/>
<rect x="598.90" y="170.5" width="2.2" height="6.0" fill="#2a7a8c"/>
<rect x="602.40" y="150.0" width="1.2" height="11.5" fill="#f03a4c"/>
<rect x="601.80" y="151.5" width="2.4" height="8.5" fill="#f03a4c"/>
<rect x="605.40" y="150.0" width="1.2" height="25.6" fill="#2bcf8e"/>
<rect x="604.80" y="151.5" width="2.4" height="22.6" fill="#2bcf8e"/>
<rect x="604.90" y="165.7" width="2.2" height="9.9" fill="#2a7a8c"/>
<rect x="607.90" y="156.6" width="1.2" height="22.4" fill="#f03a4c"/>
<rect x="607.30" y="158.1" width="2.4" height="19.4" fill="#f03a4c"/>
<rect x="610.90" y="164.0" width="1.2" height="18.0" fill="#2bcf8e"/>
<rect x="610.30" y="165.5" width="2.4" height="15.0" fill="#2bcf8e"/>
<rect x="613.90" y="165.7" width="1.2" height="39.0" fill="#f03a4c"/>
<rect x="613.30" y="177.0" width="2.4" height="26.6" fill="#f03a4c"/>
<rect x="616.90" y="192.0" width="1.2" height="22.0" fill="#f03a4c"/>
<rect x="616.30" y="193.5" width="2.4" height="19.0" fill="#f03a4c"/>
<rect x="619.40" y="217.0" width="1.2" height="19.0" fill="#f03a4c"/>
<rect x="618.80" y="218.5" width="2.4" height="16.0" fill="#f03a4c"/>
<rect x="618.90" y="222.0" width="2.2" height="14.0" fill="#b34a2e"/>
<rect x="622.40" y="219.7" width="1.2" height="19.0" fill="#f03a4c"/>
<rect x="621.80" y="221.2" width="2.4" height="16.0" fill="#f03a4c"/>
<rect x="625.40" y="229.6" width="1.2" height="19.8" fill="#f03a4c"/>
<rect x="624.80" y="230.4" width="2.4" height="12.4" fill="#f03a4c"/>
<rect x="627.90" y="233.0" width="1.2" height="10.0" fill="#2bcf8e"/>
<rect x="627.30" y="233.8" width="2.4" height="8.4" fill="#2bcf8e"/>
<rect x="630.90" y="220.5" width="1.2" height="14.9" fill="#2bcf8e"/>
<rect x="630.30" y="222.0" width="2.4" height="11.9" fill="#2bcf8e"/>
<rect x="630.40" y="227.9" width="2.2" height="6.0" fill="#2a7a8c"/>
<rect x="633.90" y="218.0" width="1.2" height="33.0" fill="#2bcf8e"/>
<rect x="633.30" y="220.5" width="2.4" height="26.5" fill="#2bcf8e"/>
<rect x="633.40" y="244.0" width="2.2" height="7.0" fill="#2a7a8c"/>
<rect x="636.90" y="220.5" width="1.2" height="29.5" fill="#f03a4c"/>
<rect x="636.30" y="227.0" width="2.4" height="17.5" fill="#f03a4c"/>
<rect x="639.90" y="233.0" width="1.2" height="13.0" fill="#2bcf8e"/>
<rect x="639.30" y="234.5" width="2.4" height="10.0" fill="#2bcf8e"/>
<rect x="642.90" y="223.8" width="1.2" height="19.0" fill="#f03a4c"/>
<rect x="642.30" y="233.7" width="2.4" height="5.0" fill="#f03a4c"/>
<rect x="645.90" y="194.5" width="1.2" height="53.3" fill="#2bcf8e"/>
<rect x="645.30" y="204.0" width="2.4" height="34.7" fill="#2bcf8e"/>
<rect x="648.40" y="187.0" width="1.2" height="29.4" fill="#2bcf8e"/>
<rect x="647.80" y="192.0" width="2.4" height="24.0" fill="#2bcf8e"/>
<rect x="651.40" y="162.4" width="1.2" height="21.4" fill="#2bcf8e"/>
<rect x="650.80" y="163.9" width="2.4" height="18.4" fill="#2bcf8e"/>
<rect x="650.90" y="176.4" width="2.2" height="7.4" fill="#2a7a8c"/>
<rect x="654.40" y="155.8" width="1.2" height="15.2" fill="#f03a4c"/>
<rect x="653.80" y="157.3" width="2.4" height="12.2" fill="#f03a4c"/>
<rect x="656.90" y="147.0" width="1.2" height="21.4" fill="#2bcf8e"/>
<rect x="656.30" y="158.5" width="2.4" height="5.8" fill="#2bcf8e"/>
<rect x="659.90" y="147.8" width="1.2" height="10.7" fill="#2bcf8e"/>
<rect x="659.30" y="149.3" width="2.4" height="7.7" fill="#2bcf8e"/>
<rect x="662.90" y="142.9" width="1.2" height="15.6" fill="#2bcf8e"/>
<rect x="662.30" y="144.4" width="2.4" height="12.6" fill="#2bcf8e"/>
<rect x="662.40" y="150.7" width="2.2" height="6.3" fill="#2a7a8c"/>
<rect x="665.40" y="143.7" width="1.2" height="11.5" fill="#2bcf8e"/>
<rect x="664.80" y="145.2" width="2.4" height="8.5" fill="#2bcf8e"/>
<rect x="668.90" y="133.0" width="1.2" height="14.8" fill="#f03a4c"/>
<rect x="668.30" y="141.2" width="2.4" height="1.7" fill="#f03a4c"/>
<rect x="671.40" y="138.0" width="1.2" height="3.0" fill="#2bcf8e"/>
<rect x="670.80" y="138.0" width="2.4" height="3.0" fill="#2bcf8e"/>
<rect x="674.40" y="130.5" width="1.2" height="18.1" fill="#2bcf8e"/>
<rect x="673.80" y="134.6" width="2.4" height="8.3" fill="#2bcf8e"/>
<rect x="677.40" y="141.0" width="1.2" height="12.6" fill="#f03a4c"/>
<rect x="676.80" y="142.5" width="2.4" height="9.6" fill="#f03a4c"/>
<rect x="680.40" y="132.0" width="1.2" height="14.0" fill="#2bcf8e"/>
<rect x="679.80" y="133.5" width="2.4" height="11.0" fill="#2bcf8e"/>
<rect x="679.90" y="139.0" width="2.2" height="5.5" fill="#2a7a8c"/>
<rect x="683.40" y="105.7" width="1.2" height="36.3" fill="#2bcf8e"/>
<rect x="682.80" y="106.5" width="2.4" height="34.7" fill="#2bcf8e"/>
<rect x="686.40" y="108.0" width="1.2" height="20.0" fill="#2bcf8e"/>
<rect x="685.80" y="109.5" width="2.4" height="17.0" fill="#2bcf8e"/>
<rect x="688.90" y="113.0" width="1.2" height="18.3" fill="#f03a4c"/>
<rect x="688.30" y="115.6" width="2.4" height="12.4" fill="#f03a4c"/>
<rect x="691.90" y="123.0" width="1.2" height="27.0" fill="#2bcf8e"/>
<rect x="691.30" y="125.5" width="2.4" height="18.2" fill="#2bcf8e"/>
<rect x="694.90" y="116.5" width="1.2" height="18.9" fill="#f03a4c"/>
<rect x="694.30" y="119.8" width="2.4" height="14.0" fill="#f03a4c"/>
<rect x="697.40" y="130.5" width="1.2" height="15.5" fill="#f03a4c"/>
<rect x="696.80" y="132.0" width="2.4" height="12.5" fill="#f03a4c"/>
<rect x="696.90" y="138.2" width="2.2" height="6.2" fill="#b34a2e"/>
<rect x="700.40" y="141.0" width="1.2" height="7.6" fill="#f03a4c"/>
<rect x="699.80" y="141.8" width="2.4" height="6.0" fill="#f03a4c"/>
<rect x="703.40" y="130.5" width="1.2" height="17.3" fill="#f03a4c"/>
<rect x="702.80" y="137.9" width="2.4" height="5.8" fill="#f03a4c"/>
<rect x="706.90" y="145.3" width="1.2" height="16.5" fill="#f03a4c"/>
<rect x="706.30" y="146.8" width="2.4" height="13.5" fill="#f03a4c"/>
<rect x="709.40" y="160.0" width="1.2" height="16.5" fill="#f03a4c"/>
<rect x="708.80" y="161.5" width="2.4" height="13.5" fill="#f03a4c"/>
<rect x="708.90" y="168.2" width="2.2" height="6.8" fill="#b34a2e"/>
<rect x="712.40" y="164.0" width="1.2" height="8.5" fill="#2bcf8e"/>
<rect x="711.80" y="164.8" width="2.4" height="6.9" fill="#2bcf8e"/>
<rect x="714.90" y="165.0" width="1.2" height="19.7" fill="#f03a4c"/>
<rect x="714.30" y="173.0" width="2.4" height="6.0" fill="#f03a4c"/>
<rect x="717.90" y="174.0" width="1.2" height="15.7" fill="#f03a4c"/>
<rect x="717.30" y="175.5" width="2.4" height="12.7" fill="#f03a4c"/>
<rect x="720.90" y="180.6" width="1.2" height="18.1" fill="#2bcf8e"/>
<rect x="720.30" y="182.1" width="2.4" height="15.1" fill="#2bcf8e"/>
<rect x="720.40" y="189.6" width="2.2" height="7.6" fill="#2a7a8c"/>
<rect x="723.90" y="187.0" width="1.2" height="20.8" fill="#f03a4c"/>
<rect x="723.30" y="188.5" width="2.4" height="17.8" fill="#f03a4c"/>
<rect x="726.90" y="198.7" width="1.2" height="12.3" fill="#2bcf8e"/>
<rect x="726.30" y="200.2" width="2.4" height="9.3" fill="#2bcf8e"/>
<rect x="726.40" y="204.8" width="2.2" height="4.7" fill="#2a7a8c"/>
<rect x="729.40" y="199.6" width="1.2" height="14.0" fill="#f03a4c"/>
<rect x="728.80" y="201.1" width="2.4" height="11.0" fill="#f03a4c"/>
<rect x="732.40" y="202.9" width="1.2" height="7.4" fill="#f03a4c"/>
<rect x="731.80" y="203.7" width="2.4" height="5.8" fill="#f03a4c"/>
<rect x="735.90" y="193.8" width="1.2" height="18.2" fill="#2bcf8e"/>
<rect x="735.30" y="195.3" width="2.4" height="15.2" fill="#2bcf8e"/>
<rect x="738.40" y="189.7" width="1.2" height="18.1" fill="#f03a4c"/>
<rect x="737.80" y="191.2" width="2.4" height="15.1" fill="#f03a4c"/>
<rect x="741.40" y="192.0" width="1.2" height="15.8" fill="#2bcf8e"/>
<rect x="740.80" y="193.5" width="2.4" height="12.8" fill="#2bcf8e"/>
<rect x="740.90" y="199.9" width="2.2" height="6.4" fill="#2a7a8c"/>
<rect x="744.40" y="196.0" width="1.2" height="17.6" fill="#f03a4c"/>
<rect x="743.80" y="197.5" width="2.4" height="14.6" fill="#f03a4c"/>
<rect x="747.40" y="204.5" width="1.2" height="14.9" fill="#f03a4c"/>
<rect x="746.80" y="208.6" width="2.4" height="3.4" fill="#f03a4c"/>
<rect x="749.90" y="210.3" width="1.2" height="17.3" fill="#f03a4c"/>
<rect x="749.30" y="219.4" width="2.4" height="8.2" fill="#f03a4c"/>
<rect x="752.90" y="216.0" width="1.2" height="18.0" fill="#f03a4c"/>
<rect x="752.30" y="220.0" width="2.4" height="3.5" fill="#f03a4c"/>
<rect x="755.40" y="202.9" width="1.2" height="18.1" fill="#f03a4c"/>
<rect x="754.80" y="204.4" width="2.4" height="15.1" fill="#f03a4c"/>
<rect x="754.90" y="211.9" width="2.2" height="7.6" fill="#b34a2e"/>
<rect x="758.40" y="205.3" width="1.2" height="14.1" fill="#f03a4c"/>
<rect x="757.80" y="206.8" width="2.4" height="11.1" fill="#f03a4c"/>
<rect x="761.40" y="192.0" width="1.2" height="18.3" fill="#2bcf8e"/>
<rect x="760.80" y="194.6" width="2.4" height="13.2" fill="#2bcf8e"/>
<rect x="763.90" y="195.4" width="1.2" height="19.0" fill="#f03a4c"/>
<rect x="763.30" y="206.0" width="2.4" height="7.6" fill="#f03a4c"/>
<rect x="766.90" y="194.6" width="1.2" height="13.2" fill="#2bcf8e"/>
<rect x="766.30" y="196.1" width="2.4" height="10.2" fill="#2bcf8e"/>
<rect x="770.40" y="193.8" width="1.2" height="13.2" fill="#f03a4c"/>
<rect x="769.80" y="195.3" width="2.4" height="10.2" fill="#f03a4c"/>
<rect x="769.90" y="200.4" width="2.2" height="5.1" fill="#b34a2e"/>
<rect x="772.90" y="169.8" width="1.2" height="24.0" fill="#2bcf8e"/>
<rect x="772.30" y="170.7" width="2.4" height="13.2" fill="#2bcf8e"/>
<rect x="775.90" y="159.4" width="1.2" height="16.2" fill="#f03a4c"/>
<rect x="775.30" y="166.5" width="2.4" height="8.3" fill="#f03a4c"/>
<rect x="778.90" y="148.6" width="1.2" height="20.4" fill="#2bcf8e"/>
<rect x="778.30" y="155.2" width="2.4" height="13.2" fill="#2bcf8e"/>
<rect x="781.90" y="145.3" width="1.2" height="14.1" fill="#2bcf8e"/>
<rect x="781.30" y="146.8" width="2.4" height="11.1" fill="#2bcf8e"/>
<rect x="784.90" y="145.3" width="1.2" height="9.1" fill="#f03a4c"/>
<rect x="784.30" y="146.1" width="2.4" height="7.5" fill="#f03a4c"/>
<rect x="787.90" y="147.0" width="1.2" height="13.0" fill="#2bcf8e"/>
<rect x="787.30" y="148.5" width="2.4" height="10.0" fill="#2bcf8e"/>
<rect x="790.40" y="138.0" width="1.2" height="9.8" fill="#2bcf8e"/>
<rect x="789.80" y="142.0" width="2.4" height="1.7" fill="#2bcf8e"/>
<rect x="793.40" y="138.7" width="1.2" height="12.3" fill="#f03a4c"/>
<rect x="792.80" y="140.2" width="2.4" height="9.3" fill="#f03a4c"/>
<rect x="796.40" y="146.0" width="1.2" height="15.8" fill="#f03a4c"/>
<rect x="795.80" y="152.0" width="2.4" height="5.0" fill="#f03a4c"/>
<rect x="798.90" y="145.3" width="1.2" height="12.4" fill="#2bcf8e"/>
<rect x="798.30" y="150.3" width="2.4" height="2.5" fill="#2bcf8e"/>
<rect x="802.40" y="127.0" width="1.2" height="13.4" fill="#2bcf8e"/>
<rect x="801.80" y="132.0" width="2.4" height="6.0" fill="#2bcf8e"/>
<rect x="31" y="36" width="109" height="14" fill="#162128"/>
<text x="37.4" y="46.4" font-size="8.6" font-weight="bold" fill="#fff" text-anchor="start" textLength="30.6" lengthAdjust="spacingAndGlyphs" stroke="#fff" stroke-width="0.25">USDBRL</text>
<text x="74.7" y="46.4" font-size="7.4" font-weight="normal" fill="#c6d4de" text-anchor="start" textLength="7.5" lengthAdjust="spacingAndGlyphs" stroke="#c6d4de" stroke-width="0.2">FX</text>
<path d="M86.4 41.6 h5 l-2.5 2.8 z" fill="#fff"/>
<circle cx="102.3" cy="43.6" r="3.9" fill="none" stroke="#fff" stroke-width="1"/><path d="M102.3 41.2 v3.4" stroke="#fff" stroke-width="1.1"/>
<rect x="115.4" y="37.2" width="23.3" height="12.5" fill="none" stroke="#1f2b32" stroke-width="1"/>
<text x="118.4" y="46.5" font-size="8.6" font-weight="bold" fill="#fff" text-anchor="start" textLength="7.2" lengthAdjust="spacingAndGlyphs" >D1</text>
<path d="M132 42.4 h5.4 l-2.7 2.9 z" fill="#fff"/>
<rect x="32" y="52" width="28.3" height="11" fill="#6f8ba3"/>
<text x="36" y="60.6" font-size="8.4" font-weight="normal" fill="#fff" text-anchor="start" textLength="22" lengthAdjust="spacingAndGlyphs" >5.4295</text>
<rect x="62" y="52" width="7.5" height="11" fill="#222e35"/>
<path d="M63.4 57.7 h4.6" stroke="#fff" stroke-width="1.2"/>
<rect x="72.3" y="52" width="26.1" height="11" fill="#1c2830"/>
<text x="78.4" y="60.6" font-size="8.4" font-weight="normal" fill="#eee" text-anchor="start" textLength="13" lengthAdjust="spacingAndGlyphs" stroke="#eee" stroke-width="0.2">0.50</text>
<rect x="101.3" y="52" width="7" height="11" fill="#222e35"/>
<path d="M102.4 57.7 h4.6 M104.7 55.4 v4.6" stroke="#fff" stroke-width="1.1"/>
<rect x="110.2" y="52" width="27.5" height="11" fill="#6f8ba3"/>
<text x="114" y="60.6" font-size="8.4" font-weight="normal" fill="#fff" text-anchor="start" textLength="21.5" lengthAdjust="spacingAndGlyphs" >5.4378</text>
<text x="144" y="59.9" font-size="7.4" font-weight="bold" fill="#fff" text-anchor="start" textLength="20" lengthAdjust="spacingAndGlyphs" >SL/TP</text>
<path d="M173.8 59.6 l2.6 -2.4 l2.2 1 l3.6 -3" stroke="#a9c3d6" stroke-width="1.1" fill="none"/>
<g stroke="#a9c3d6" stroke-width="0.9" fill="none"><path d="M193.4 54.4 v6.8 M195.9 52.7 v9.9 M198.5 53.6 v7.4"/><rect x="192.8" y="55.6" width="1.2" height="4" fill="#a9c3d6" stroke="none"/><rect x="197.9" y="55.4" width="1.2" height="3.6" fill="#a9c3d6" stroke="none"/><path d="M191.4 54.8 q-1.2 2.6 0 5.6"/></g>
<path d="M202 61.6 v2 h-2 z" fill="#a9c3d6"/>
<g stroke="#a9c3d6" stroke-width="1" fill="none"><circle cx="211.4" cy="56.4" r="3.5"/><path d="M213.9 59 l3 3"/><path d="M209.6 56.4 h3.6"/></g>
<g stroke="#a9c3d6" stroke-width="1" fill="none"><circle cx="228.1" cy="56.4" r="3.5"/><path d="M230.6 59 l3 3"/><path d="M226.3 56.4 h3.6 M228.1 54.6 v3.6"/></g>
<g stroke="#a9c3d6" stroke-width="1" fill="none"><path d="M242.4 57.7 h8.8 M246.8 53 v9.4"/><path d="M245.6 54.2 l1.2 -1.2 l1.2 1.2 M245.6 61.2 l1.2 1.2 l1.2 -1.2 M243.6 56.5 l-1.2 1.2 l1.2 1.2 M250 56.5 l1.2 1.2 l-1.2 1.2" stroke-width="0.8"/></g>
<path d="M254.5 61.6 v2 h-2 z" fill="#a9c3d6"/>
<rect x="5.3" y="147.6" width="9.8" height="8.2" rx="1" fill="#7a93a8" stroke="#2f7e90" stroke-width="1"/>
<rect x="6.6" y="148.8" width="7.2" height="5.8" fill="none" stroke="#93abbd" stroke-width="0.6"/>
<circle cx="18" cy="160" r="0.95" fill="#e6eef3"/>
<path d="M2 166.3 H19" stroke="#0c1418" stroke-width="1.4"/>
<text x="4.6" y="184" font-size="10" font-weight="bold" fill="#a9c3d6" text-anchor="start" >f</text>
<text x="7.8" y="184.2" font-size="8.6" font-weight="normal" fill="#a9c3d6" text-anchor="start" textLength="9.6" lengthAdjust="spacingAndGlyphs" >(x)</text>
<path d="M5.8 199.3 h8.4 M10 195.1 v8.4" stroke="#a9c3d6" stroke-width="1"/>
<path d="M7 221 L14 214" stroke="#a9c3d6" stroke-width="1.3"/><circle cx="6.8" cy="221.2" r="1" fill="#a9c3d6"/><circle cx="14.2" cy="213.8" r="1" fill="#a9c3d6"/>
<circle cx="18" cy="226" r="0.95" fill="#e6eef3"/>
<rect x="6.2" y="233" width="8.2" height="6" fill="none" stroke="#a9c3d6" stroke-width="1.1"/>
<circle cx="18" cy="245" r="0.95" fill="#e6eef3"/>
<path d="M10.2 253.2 h4.6 M7.9 256.3 h6.9 M7.9 259.2 h6.9 M10.6 253.4 l-2.6 5.6" stroke="#a9c3d6" stroke-width="1" fill="none"/><rect x="6" y="251.8" width="1.3" height="1.3" fill="#a9c3d6"/>
<circle cx="18" cy="263" r="0.95" fill="#e6eef3"/>
<path d="M5.6 275 L14.6 270.8 M5.6 275 L14.4 273.6 M5.6 275 L14 276.8 M12.4 271 v6" stroke="#a9c3d6" stroke-width="0.9" fill="none"/>
<circle cx="18" cy="281.5" r="0.95" fill="#e6eef3"/>
<path d="M7.4 289.2 h6.4 M10.6 289.2 v6.6" stroke="#a9c3d6" stroke-width="1.2" fill="none"/>
<circle cx="18" cy="300" r="0.95" fill="#e6eef3"/>
<path d="M2 306.4 H19" stroke="#0c1418" stroke-width="1.4"/>
<g stroke="#a9c3d6" stroke-width="0.9" fill="none"><path d="M7.4 315 v11 M10.4 314.6 v12 M13.4 315.6 v10"/><rect x="6.6" y="317.6" width="1.6" height="5.4"/><rect x="12.6" y="318" width="1.6" height="4.6"/></g>
<g stroke="#a9c3d6" stroke-width="0.9" fill="none"><path d="M10.5 334.4 l4.4 2 l-4.4 2 l-4.4 -2 z"/><path d="M6.1 338.8 l4.4 2 l4.4 -2 M6.1 341.2 l4.4 2 l4.4 -2"/></g>
<circle cx="18" cy="347.5" r="0.95" fill="#e6eef3"/>
<path d="M2 354.4 H19" stroke="#0c1418" stroke-width="1.4"/>
<g stroke="#a9c3d6" stroke-width="0.9" fill="none"><path d="M7 368.6 L13.6 365.2 M7 368.6 L13.6 372"/><circle cx="6.8" cy="368.6" r="1.2"/><circle cx="13.8" cy="365" r="1.2"/><circle cx="13.8" cy="372.2" r="1.2"/></g>
<rect x="497.6" y="103.8" width="308" height="148.8" fill="none" stroke="#ff8c0a" stroke-width="2.7" stroke-linejoin="round"/>
<g stroke="#ff8c0a" stroke-width="3" fill="none" stroke-linecap="round" stroke-linejoin="round">
<path d="M88.5 424.5 L303 254.8"/>
<path d="M303.4 254.3 L289.6 257.2 L297.2 267.2 Z" stroke-width="3.1"/>
<path d="M302 264.6 L416.3 384.8"/>
<path d="M416.4 385.2 L412.8 372.4 L403.4 380.4 Z" stroke-width="3.1"/>
</g>
<text x="810.4" y="69.2" font-size="9" font-weight="bold" fill="#fff" text-anchor="start" textLength="27.6" lengthAdjust="spacingAndGlyphs" >4.3575</text>
<text x="810.4" y="94.73" font-size="9" font-weight="bold" fill="#fff" text-anchor="start" textLength="27.6" lengthAdjust="spacingAndGlyphs" >4.3031</text>
<text x="810.4" y="120.26" font-size="9" font-weight="bold" fill="#fff" text-anchor="start" textLength="27.6" lengthAdjust="spacingAndGlyphs" >4.2487</text>
<text x="810.4" y="145.79" font-size="9" font-weight="bold" fill="#fff" text-anchor="start" textLength="27.6" lengthAdjust="spacingAndGlyphs" >4.1944</text>
<text x="810.4" y="171.32000000000002" font-size="9" font-weight="bold" fill="#fff" text-anchor="start" textLength="27.6" lengthAdjust="spacingAndGlyphs" >4.1400</text>
<text x="810.4" y="196.85" font-size="9" font-weight="bold" fill="#fff" text-anchor="start" textLength="27.6" lengthAdjust="spacingAndGlyphs" >4.0856</text>
<text x="810.4" y="222.38000000000002" font-size="9" font-weight="bold" fill="#fff" text-anchor="start" textLength="27.6" lengthAdjust="spacingAndGlyphs" >4.0312</text>
<text x="810.4" y="247.91" font-size="9" font-weight="bold" fill="#fff" text-anchor="start" textLength="27.6" lengthAdjust="spacingAndGlyphs" >3.9768</text>
<text x="810.4" y="273.44" font-size="9" font-weight="bold" fill="#fff" text-anchor="start" textLength="27.6" lengthAdjust="spacingAndGlyphs" >3.9225</text>
<text x="810.4" y="298.96999999999997" font-size="9" font-weight="bold" fill="#fff" text-anchor="start" textLength="27.6" lengthAdjust="spacingAndGlyphs" >3.8681</text>
<text x="810.4" y="324.5" font-size="9" font-weight="bold" fill="#fff" text-anchor="start" textLength="27.6" lengthAdjust="spacingAndGlyphs" >3.8137</text>
<text x="810.4" y="350.03000000000003" font-size="9" font-weight="bold" fill="#fff" text-anchor="start" textLength="27.6" lengthAdjust="spacingAndGlyphs" >3.7593</text>
<text x="810.4" y="375.56" font-size="9" font-weight="bold" fill="#fff" text-anchor="start" textLength="27.6" lengthAdjust="spacingAndGlyphs" >3.7049</text>
<text x="810.4" y="401.09" font-size="9" font-weight="bold" fill="#fff" text-anchor="start" textLength="27.6" lengthAdjust="spacingAndGlyphs" >3.6505</text>
<text x="810.4" y="426.62" font-size="9" font-weight="bold" fill="#fff" text-anchor="start" textLength="27.6" lengthAdjust="spacingAndGlyphs" >3.5962</text>
<text x="810.4" y="452.15000000000003" font-size="9" font-weight="bold" fill="#fff" text-anchor="start" textLength="27.6" lengthAdjust="spacingAndGlyphs" >3.5418</text>
<text x="810.4" y="474.3" font-size="9" font-weight="bold" fill="#fff" text-anchor="start" textLength="27.6" lengthAdjust="spacingAndGlyphs" >3.4874</text>
<clipPath id="ct"><rect x="800" y="40" width="50" height="10"/></clipPath>
<path d="M802 40 H844.5 V47 H808 Z" fill="#2a7486"/>
<text x="810.4" y="45.2" font-size="9" font-weight="bold" fill="#fff" text-anchor="start" textLength="27.6" lengthAdjust="spacingAndGlyphs" clip-path="url(#ct)">5.4295</text>
<text x="27" y="483.6" font-size="9" font-weight="bold" fill="#fff" text-anchor="start" textLength="45.7" lengthAdjust="spacingAndGlyphs" >02.01.2019</text>
<text x="122.4" y="483.6" font-size="9" font-weight="bold" fill="#fff" text-anchor="start" textLength="45.7" lengthAdjust="spacingAndGlyphs" >20.02.2019</text>
<text x="217.8" y="483.6" font-size="9" font-weight="bold" fill="#fff" text-anchor="start" textLength="45.7" lengthAdjust="spacingAndGlyphs" >10.04.2019</text>
<text x="313.20000000000005" y="483.6" font-size="9" font-weight="bold" fill="#fff" text-anchor="start" textLength="45.7" lengthAdjust="spacingAndGlyphs" >29.05.2019</text>
<text x="408.6" y="483.6" font-size="9" font-weight="bold" fill="#fff" text-anchor="start" textLength="45.7" lengthAdjust="spacingAndGlyphs" >15.07.2019</text>
<text x="504.0" y="483.6" font-size="9" font-weight="bold" fill="#fff" text-anchor="start" textLength="45.7" lengthAdjust="spacingAndGlyphs" >29.08.2019</text>
<text x="599.4000000000001" y="483.6" font-size="9" font-weight="bold" fill="#fff" text-anchor="start" textLength="45.7" lengthAdjust="spacingAndGlyphs" >15.10.2019</text>
<text x="694.8000000000001" y="483.6" font-size="9" font-weight="bold" fill="#fff" text-anchor="start" textLength="45.7" lengthAdjust="spacingAndGlyphs" >02.12.2019</text>
<text x="790.2" y="483.6" font-size="9" font-weight="bold" fill="#fff" text-anchor="start" textLength="45.7" lengthAdjust="spacingAndGlyphs" >21.01.2020</text>
<text x="754.9" y="464" font-size="9.9" textLength="49" lengthAdjust="spacingAndGlyphs" stroke-width="0.25"><tspan fill="#ff8c1a" stroke="#ff8c1a">06</tspan><tspan fill="#bcc8d0" stroke="#bcc8d0">h </tspan><tspan fill="#ff8c1a" stroke="#ff8c1a">29</tspan><tspan fill="#bcc8d0" stroke="#bcc8d0">min</tspan></text>
</svg>
</body></html>
